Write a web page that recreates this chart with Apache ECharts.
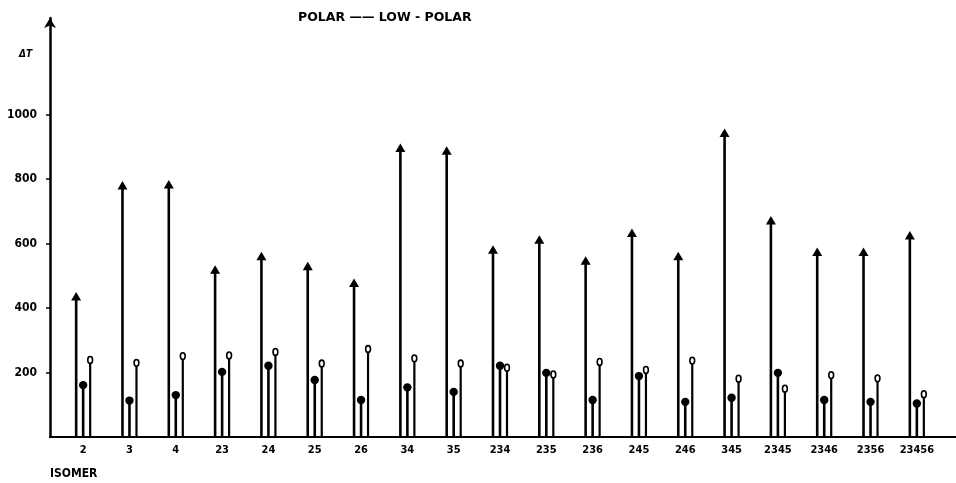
<!DOCTYPE html>
<html>
<head>
<meta charset="utf-8">
<script src="https://cdn.jsdelivr.net/npm/echarts@6/dist/echarts.min.js"></script>
<style>
html,body{margin:0;padding:0;background:#fff;}
#chart{width:956px;height:483px;}
</style>
</head>
<body>
<div id="chart"></div>
<script>
const categories = ['2','3','4','23','24','25','26','34','35','234','235','236','245','246','345','2345','2346','2356','23456'];
const polarValues = [450,794,797,533,575,544,492,911,902,595,626,561,647,575,957,686,588,588,639];
const filledValues = [161,113,130,202,221,177,115,154,140,221,199,115,189,109,122,199,115,109,104];
const openValues = [239,230,251,253,264,228,273,244,228,215,194,233,208,237,181,150,192,182,133];
const yTicks = [200,400,600,800,1000];

const FONT = '"DejaVu Sans Condensed", "Liberation Sans Narrow", sans-serif';
const FONT_WIDE = '"DejaVu Sans", sans-serif';

function toData(arr){ return arr.map((v,i)=>[i,v]); }

function makeRender(kind, dx){
  return function(params, api){
    const i = api.value(0), v = api.value(1);
    const top = api.coord([i, v]);
    const base = api.coord([i, 0]);
    const x = top[0] + dx;
    const y = top[1];
    const children = [];
    if (kind === 'tri') {
      children.push({type:'line', shape:{x1:x,y1:base[1],x2:x,y2:y+7}, style:{stroke:'#000', lineWidth:2.6}});
      children.push({type:'polygon', shape:{points:[[x,y],[x-5,y+8.5],[x+5,y+8.5]]}, style:{fill:'#000'}});
    } else if (kind === 'dot') {
      children.push({type:'line', shape:{x1:x,y1:base[1],x2:x,y2:y}, style:{stroke:'#000', lineWidth:2.6}});
      children.push({type:'circle', shape:{cx:x,cy:y,r:4.2}, style:{fill:'#000'}});
    } else {
      children.push({type:'line', shape:{x1:x,y1:base[1],x2:x,y2:y+3}, style:{stroke:'#000', lineWidth:2.2}});
      children.push({type:'ellipse', shape:{cx:x,cy:y,rx:2.4,ry:3.4}, style:{fill:'#fff', stroke:'#000', lineWidth:1.6}});
    }
    return {type:'group', children};
  };
}

const chart = echarts.init(document.getElementById('chart'), null, {renderer:'canvas'});
chart.setOption({
  animation:false,
  backgroundColor:'#fff',
  title:[
    {text:'POLAR —— LOW - POLAR', left:293, top:6, textStyle:{fontFamily:FONT_WIDE, fontWeight:'bold', fontSize:12.5, color:'#000'}},
    {text:'ΔT', left:14, top:44, textStyle:{fontFamily:FONT, fontStyle:'italic', fontWeight:'bold', fontSize:10, color:'#000'}},
    {text:'ISOMER', left:45, top:463, textStyle:{fontFamily:FONT, fontWeight:'bold', fontSize:12, color:'#000'}}
  ],
  grid:[
    {left:60, right:16, top:18, bottom:46},
    {left:50, right:0, top:18, bottom:46}
  ],
  xAxis:[
    {type:'category', gridIndex:0, data:categories, boundaryGap:true,
     axisLine:{show:true, lineStyle:{color:'#000', width:2}},
     axisTick:{show:false},
     axisLabel:{color:'#000', fontFamily:FONT, fontWeight:'bold', fontSize:11, margin:8, interval:0},
     splitLine:{show:false}},
    {type:'value', gridIndex:1, min:0, max:1,
     axisLine:{show:true, onZero:false, lineStyle:{color:'#000', width:2}},
     axisTick:{show:false}, axisLabel:{show:false}, splitLine:{show:false}}
  ],
  yAxis:[
    {type:'value', gridIndex:0, min:0, max:1300, interval:200, offset:10,
     axisLine:{show:true, onZero:false, symbol:['none','arrow'], symbolSize:[9,10], lineStyle:{color:'#000', width:2.5}},
     axisTick:{show:true, inside:false, length:4, lineStyle:{color:'#000', width:1.5}, customValues:yTicks},
     axisLabel:{color:'#000', fontFamily:FONT, fontWeight:'bold', fontSize:12, margin:13, customValues:yTicks,
       formatter:function(v){ return (v>=200 && v<=1000) ? String(v) : ''; }},
     splitLine:{show:false}},
    {type:'value', gridIndex:1, min:0, max:1, show:false}
  ],
  series:[
    {type:'custom', name:'polar', xAxisIndex:0, yAxisIndex:0, data:toData(polarValues), encode:{x:0,y:1}, renderItem:makeRender('tri',-7), clip:false},
    {type:'custom', name:'filled', xAxisIndex:0, yAxisIndex:0, data:toData(filledValues), encode:{x:0,y:1}, renderItem:makeRender('dot',0), clip:false},
    {type:'custom', name:'open', xAxisIndex:0, yAxisIndex:0, data:toData(openValues), encode:{x:0,y:1}, renderItem:makeRender('open',7), clip:false}
  ]
});
</script>
</body>
</html>
